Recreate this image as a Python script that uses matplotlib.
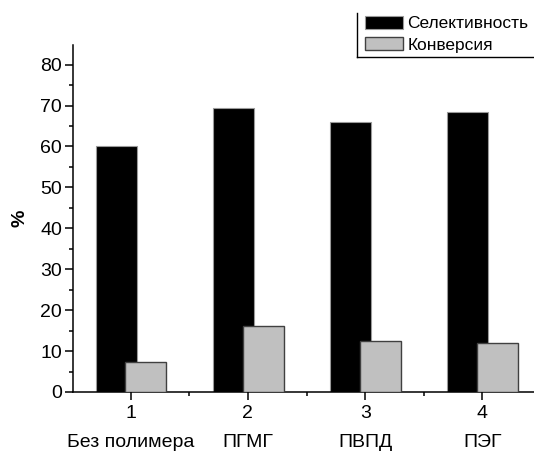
import matplotlib
matplotlib.use("Agg")
import matplotlib.pyplot as plt
from matplotlib.lines import Line2D
from matplotlib.ticker import MultipleLocator

plt.rcParams['font.family'] = ['Liberation Sans', 'DejaVu Sans']

# data
positions = [1, 2, 3, 4]
names = ['Без полимера', 'ПГМГ', 'ПВПД', 'ПЭГ']
selectivity = [60.1, 69.3, 66.0, 68.4]
conversion = [7.3, 16.1, 12.5, 11.9]

fig = plt.figure(figsize=(5.34, 4.54), dpi=100)
ax = fig.add_axes([73 / 534, 62 / 454, 1 - 73 / 534, 347 / 454])

w = 0.35
ax.bar([p - 0.30 for p in positions], selectivity, width=w, align='edge',
       color='black', edgecolor='#9a9a9a', linewidth=0.8, label='Селективность', zorder=2)
ax.bar([p - 0.045 for p in positions], conversion, width=w, align='edge',
       color='#c0c0c0', edgecolor='#404040', linewidth=1.0, label='Конверсия', zorder=3)

ax.set_xlim(0.508, 4.44)
ax.set_ylim(0, 84.8)
ax.yaxis.set_major_locator(MultipleLocator(10))
ax.yaxis.set_minor_locator(MultipleLocator(5))
ax.set_xticks(positions)
ax.set_xticklabels([str(p) for p in positions])
ax.xaxis.set_minor_locator(MultipleLocator(0.5))

for s in ['top', 'right']:
    ax.spines[s].set_visible(False)
for s in ['left', 'bottom']:
    ax.spines[s].set_linewidth(1.1)

ax.tick_params(axis='both', which='major', direction='out', length=6, width=1.1,
               labelsize=14, pad=2)
ax.tick_params(axis='both', which='minor', direction='out', length=3, width=1.1)
ax.tick_params(axis='x', which='major', pad=3)

ax.set_ylabel('%', fontsize=14, fontweight='bold', labelpad=8)

# category names under the numeric ticks
for p, n in zip(positions, names):
    ax.annotate(n, xy=(p, 0), xycoords=('data', 'axes fraction'),
                xytext=(0, -30), textcoords='offset points',
                ha='center', va='top', fontsize=14)

leg = fig.legend(loc='upper left', bbox_to_anchor=(365 / 534, 1 - 16 / 454),
                 bbox_transform=fig.transFigure, frameon=False, fontsize=12.5,
                 handlelength=2.2, handleheight=0.75, handletextpad=0.25,
                 labelspacing=0.35, borderpad=0, borderaxespad=0)

# partial legend frame (left and bottom edges)
fig.add_artist(Line2D([357 / 534, 357 / 534], [1 - 13 / 454, 1 - 57 / 454],
                      transform=fig.transFigure, color='black', lw=1))
fig.add_artist(Line2D([357 / 534, 1.0], [1 - 57 / 454, 1 - 57 / 454],
                      transform=fig.transFigure, color='black', lw=1))

fig.savefig('out.png', dpi=100)
